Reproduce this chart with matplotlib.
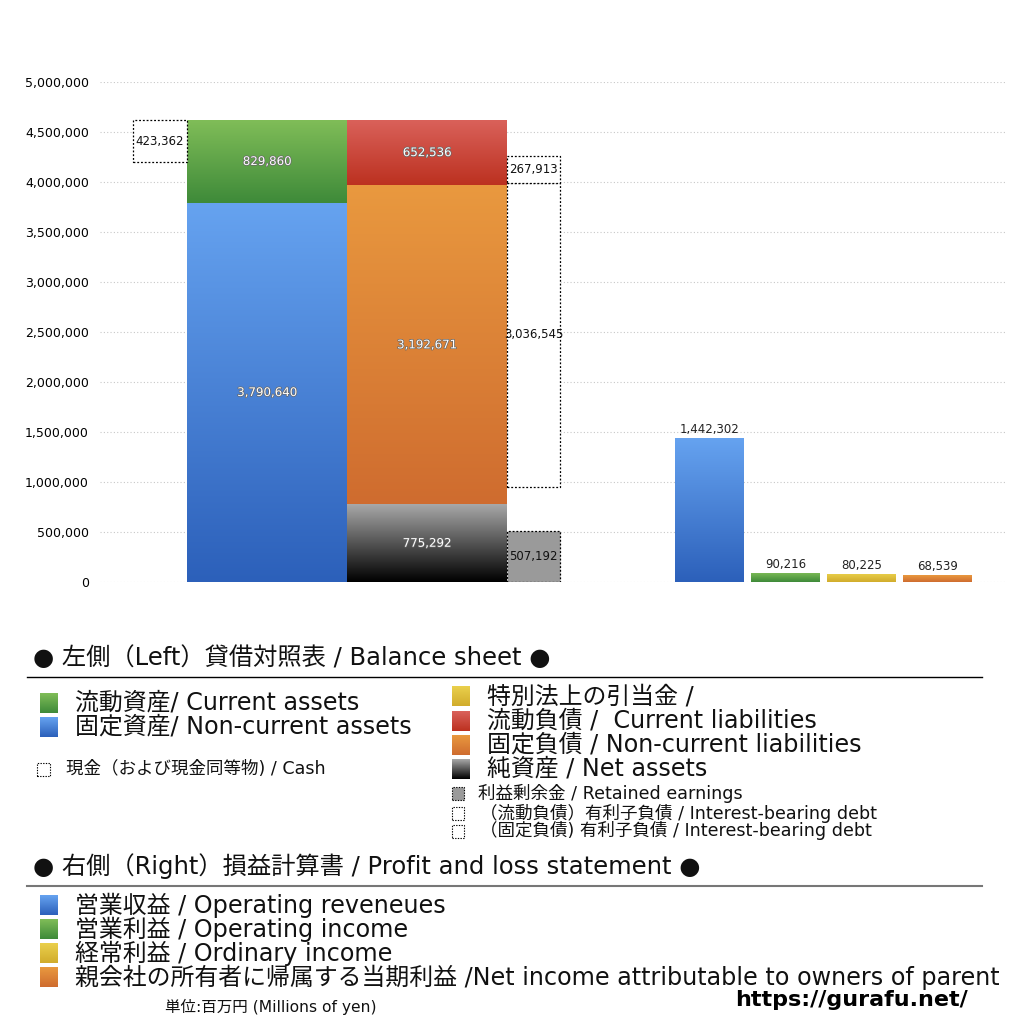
import numpy as np
import matplotlib
matplotlib.use("Agg")
import matplotlib.pyplot as plt
from matplotlib.patches import Rectangle
from matplotlib.lines import Line2D
from matplotlib.colors import LinearSegmentedColormap
import matplotlib.patheffects as pe

plt.rcParams['font.family'] = ['DejaVu Sans', 'Noto Sans CJK JP']

# 貸借対照表 (百万円)
current_assets = 829860
noncurrent_assets = 3790640
current_liab = 652536
noncurrent_liab = 3192671
net_assets = 775292
cash = 423362
retained_earnings = 507192
ibd_current = 267913
ibd_noncurrent = 3036545
ibd_base = 955000  # 有利子負債ボックスの下端

# 損益計算書
pl_labels = ["営業収益", "営業利益", "経常利益", "当期利益"]
pl_values = [1442302, 90216, 80225, 68539]

COLORS = {
    'green': ('#80bd58', '#3e8a39'),
    'blue': ('#66a3f0', '#2c60ba'),
    'red': ('#da625b', '#bc3120'),
    'orange': ('#e9993f', '#cf6c2f'),
    'black': ('#a8a8a8', '#000000'),
    'yellow': ('#ead04c', '#d1ac2c'),
}
pl_colors = ['blue', 'green', 'yellow', 'orange']


def grad_bar(ax, x, bottom, height, width, key, z=3):
    top_c, bot_c = COLORS[key]
    cmap = LinearSegmentedColormap.from_list(key, [bot_c, top_c])
    rect = ax.bar(x, height, width, bottom=bottom, color='none', zorder=z)[0]
    grad = np.linspace(0, 1, 256).reshape(-1, 1)
    im = ax.imshow(grad, cmap=cmap, aspect='auto', origin='lower',
                   extent=(x - width / 2, x + width / 2, bottom, bottom + height), zorder=z)
    im.set_clip_path(rect)


def dashed_box(ax, x, bottom, height, width, fill='white'):
    ax.bar(x, height, width, bottom=bottom, facecolor=fill, edgecolor='black',
           linestyle=(0, (1.5, 1.5)), linewidth=0.9, zorder=4)


def inner_label(ax, x, y, val):
    ax.text(x, y, f"{val:,}", ha='center', va='center', color='white', fontsize=8.5, zorder=6,
            path_effects=[pe.withStroke(linewidth=1.0, foreground='#666666')])


def box_label(ax, x, y, val):
    ax.text(x, y, f"{val:,}", ha='center', va='center', color='#111111', fontsize=8.5, zorder=6)


fig = plt.figure(figsize=(10.24, 10.24), dpi=100)
ax = fig.add_axes([100 / 1024, 1 - 582 / 1024, 905 / 1024, 500 / 1024])
ax.set_xlim(0, 905)
ax.set_ylim(0, 5000000)

# 資産
xa, xl, wb = 167, 327, 160
grad_bar(ax, xa, 0, noncurrent_assets, wb, 'blue')
grad_bar(ax, xa, noncurrent_assets, current_assets, wb, 'green')
inner_label(ax, xa, noncurrent_assets / 2, noncurrent_assets)
inner_label(ax, xa, noncurrent_assets + current_assets / 2, current_assets)
total = noncurrent_assets + current_assets
dashed_box(ax, 60, total - cash, cash, 54)
box_label(ax, 60, total - cash / 2, cash)

# 負債・純資産
grad_bar(ax, xl, 0, net_assets, wb, 'black')
grad_bar(ax, xl, net_assets, noncurrent_liab, wb, 'orange')
grad_bar(ax, xl, net_assets + noncurrent_liab, current_liab, wb, 'red')
inner_label(ax, xl, net_assets / 2, net_assets)
inner_label(ax, xl, net_assets + noncurrent_liab / 2, noncurrent_liab)
inner_label(ax, xl, net_assets + noncurrent_liab + current_liab / 2, current_liab)

xr, wr = 433.5, 53
dashed_box(ax, xr, 0, retained_earnings, wr, fill='#9a9a9a')
box_label(ax, xr, retained_earnings / 2, retained_earnings)
dashed_box(ax, xr, ibd_base, ibd_noncurrent, wr)
box_label(ax, xr, ibd_base + ibd_noncurrent / 2, ibd_noncurrent)
dashed_box(ax, xr, ibd_base + ibd_noncurrent, ibd_current, wr)
box_label(ax, xr, ibd_base + ibd_noncurrent + ibd_current / 2, ibd_current)

# 損益計算書
pl_x = [609.5, 685.5, 761.5, 837.5]
for x, v, c in zip(pl_x, pl_values, pl_colors):
    grad_bar(ax, x, 0, v, 69, c)
    ax.text(x, v + 20000, f"{v:,}", ha='center', va='bottom', fontsize=8.5, color='#222222', zorder=6)

ax.set_xlim(0, 905)
ax.set_ylim(0, 5000000)
ax.set_yticks(np.arange(0, 5000001, 500000))
ax.set_yticklabels([f"{int(t):,}" for t in np.arange(0, 5000001, 500000)], fontsize=9)
ax.tick_params(axis='y', length=0, pad=8)
ax.set_xticks([])
for s in ax.spines.values():
    s.set_visible(False)
ax.grid(axis='y', color='#c8c8c8', linestyle=(0, (1, 2)), linewidth=0.8, zorder=0)
ax.set_axisbelow(True)


# 凡例
def fx(px):
    return px / 1024


def fy(py):
    return 1 - py / 1024


def swatch(x, y, w, h, key=None, fill=None, dashed=False):
    if key is not None:
        sax = fig.add_axes([fx(x), fy(y + h / 2), w / 1024, h / 1024])
        top_c, bot_c = COLORS[key]
        cmap = LinearSegmentedColormap.from_list(key, [bot_c, top_c])
        sax.imshow(np.linspace(0, 1, 64).reshape(-1, 1), cmap=cmap, aspect='auto', origin='lower')
        sax.axis('off')
    else:
        fig.patches.append(Rectangle((fx(x), fy(y + h / 2)), w / 1024, h / 1024,
                                     transform=fig.transFigure, facecolor=fill or 'white',
                                     edgecolor='black', linestyle=(0, (1.2, 1.2)), linewidth=0.8))


def legend_text(x, y, s, size=17.2):
    fig.text(fx(x), fy(y), s, fontsize=size, va='center', ha='left', color='#111111')


big_header = 17.5
small = 12.6

legend_text(33, 658, "● 左側（Left）貸借対照表 / Balance sheet ●", big_header)
fig.add_artist(Line2D([fx(27), fx(982)], [fy(677), fy(677)], color='black', lw=1))

swatch(40, 703, 18, 20, 'green')
legend_text(75, 703, "流動資産/ Current assets")
swatch(40, 727, 18, 20, 'blue')
legend_text(75, 727, "固定資産/ Non-current assets")
swatch(37, 769, 13, 13, dashed=True)
legend_text(66, 769, "現金（および現金同等物) / Cash", small)

swatch(452, 696, 18, 20, 'yellow')
legend_text(487, 696, "特別法上の引当金 /")
swatch(452, 721, 18, 20, 'red')
legend_text(487, 721, "流動負債 /  Current liabilities")
swatch(452, 745, 18, 20, 'orange')
legend_text(487, 745, "固定負債 / Non-current liabilities")
swatch(452, 769, 18, 20, 'black')
legend_text(487, 769, "純資産 / Net assets")
swatch(452, 793, 12, 13, fill='#9a9a9a', dashed=True)
legend_text(478, 793, "利益剰余金 / Retained earnings", small)
swatch(452, 813, 12, 13, dashed=True)
legend_text(480, 813, "（流動負債）有利子負債 / Interest-bearing debt", small)
swatch(452, 831, 12, 13, dashed=True)
legend_text(480, 831, "（固定負債) 有利子負債 / Interest-bearing debt", small)

legend_text(33, 866, "● 右側（Right）損益計算書 / Profit and loss statement ●", big_header)
fig.add_artist(Line2D([fx(27), fx(982)], [fy(886), fy(886)], color='#777777', lw=1.5))

pl_legend = ["営業収益 / Operating reveneues", "営業利益 / Operating income",
             "経常利益 / Ordinary income",
             "親会社の所有者に帰属する当期利益 /Net income attributable to owners of parent"]
for i, (txt, c) in enumerate(zip(pl_legend, pl_colors)):
    yy = 905 + 24 * i
    swatch(40, yy, 18, 20, c)
    legend_text(75, yy, txt)

fig.text(fx(165), fy(1007), "単位:百万円 (Millions of yen)", fontsize=11.2, va='center', color='#111111')
fig.text(fx(735), fy(1000), "https://gurafu.net/", fontsize=16, fontweight='bold', va='center', color='black')

fig.savefig("out.png", dpi=100)
